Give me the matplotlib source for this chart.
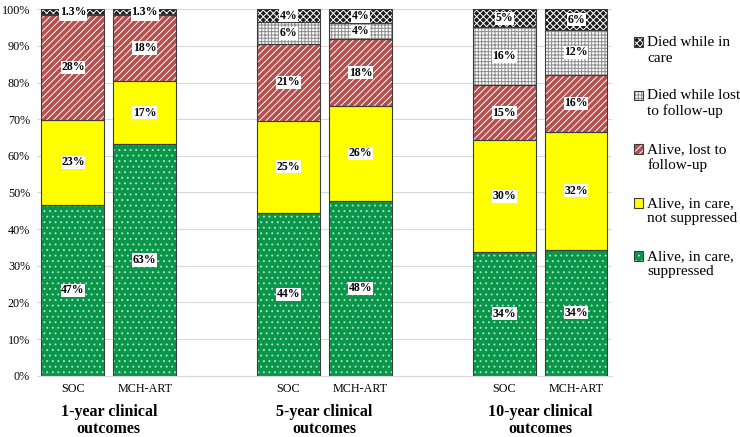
"""Stacked clinical outcome bars: SOC vs MCH-ART at 1, 5 and 10 years."""

import matplotlib
import matplotlib.pyplot as plt
import numpy as np
from matplotlib.legend_handler import HandlerTuple
from matplotlib.patches import Patch

matplotlib.use("Agg")

# ---------------------------------------------------------------------------
# Data (percent of cohort, bottom to top)
# ---------------------------------------------------------------------------

ARMS = ["SOC", "MCH-ART", "SOC", "MCH-ART", "SOC", "MCH-ART"]
GROUPS = ["1-year clinical\noutcomes", "5-year clinical\noutcomes", "10-year clinical\noutcomes"]
CATEGORIES = [
    "Alive, in care,\nsuppressed",
    "Alive, in care,\nnot suppressed",
    "Alive, lost to\nfollow-up",
    "Died while lost\nto follow-up",
    "Died while in\ncare",
]

in_care_suppressed = [46.6, 63.2, 44.4, 47.7, 33.8, 34.4]
in_care_not_suppressed = [23.3, 17.2, 25.2, 25.9, 30.4, 32.1]
lost_to_follow_up = [28.4, 18.0, 20.9, 18.2, 15.1, 15.6]
died_lost = [0.4, 0.3, 5.9, 4.3, 15.8, 12.2]
died_in_care = [1.3, 1.3, 3.6, 3.9, 4.9, 5.7]

SERIES = [in_care_suppressed, in_care_not_suppressed, lost_to_follow_up, died_lost, died_in_care]

# Bar slots: an empty slot between each pair of arms
X_POS = [0, 1, 3, 4, 6, 7]

# (face, hatch, hatch colour) per category
STYLES = [
    ("#0a964a", "...", "#a8e0bd"),
    ("#ffff00", "", "#ffff00"),
    ("#b5504f", "/////", "#ffffff"),
    ("#ffffff", "+++++", "#8c8c8c"),
    ("#1c1c1c", "xxxxx", "#ffffff"),
]
EDGE = "#3b3b3b"

plt.rcParams["font.family"] = ["Liberation Serif", "DejaVu Serif"]
plt.rcParams["hatch.linewidth"] = 0.7


class TopAlignedHandler(HandlerTuple):
    """Overlay the tuple parts and lift the square to the first text line."""

    def create_artists(self, legend, orig_handle, xdescent, ydescent, width,
                       height, fontsize, trans):
        return super().create_artists(legend, orig_handle, xdescent,
                                      ydescent - 0.52 * fontsize, width, height,
                                      fontsize, trans)


def fmt(v: float) -> str:
    return f"{v:.1f}%" if v < 2 else f"{v:.0f}%"


def main() -> None:
    fig = plt.figure(figsize=(7.4, 4.37), dpi=100)
    ax = fig.add_axes([0.05, 0.14, 0.777, 0.839])

    x = np.array(X_POS, dtype=float)
    width = 0.875
    bottom = np.zeros(len(x))
    handles = []
    for values, (face, hatch, hcol) in zip(SERIES, STYLES):
        vals = np.array(values)
        ax.bar(x, vals, width, bottom=bottom, color=face, linewidth=0, zorder=2)
        if hatch:
            ax.bar(x, vals, width, bottom=bottom, fill=False, hatch=hatch,
                   edgecolor=hcol, linewidth=0, zorder=3)
        ax.bar(x, vals, width, bottom=bottom, fill=False, edgecolor=EDGE,
               linewidth=0.8, zorder=4)
        for xi, b, v in zip(x, bottom, vals):
            ax.text(xi, b + v / 2, fmt(v), ha="center", va="center", fontsize=8.5,
                    fontweight="bold", zorder=6,
                    bbox={"facecolor": "white", "edgecolor": "none", "pad": 0.4})
        bottom += vals

        fill = Patch(facecolor=face, edgecolor="none")
        hat = Patch(fill=False, hatch=hatch, edgecolor=hcol, linewidth=0)
        outline = Patch(fill=False, edgecolor=EDGE, linewidth=0.8)
        handles.append((fill, hat, outline))

    ax.set_xlim(-0.5, 7.5)
    ax.set_ylim(0, 100)
    ax.set_yticks(np.arange(0, 101, 10))
    ax.set_yticklabels([f"{t}%" for t in range(0, 101, 10)])
    ax.set_xticks(x)
    ax.set_xticklabels(ARMS)
    ax.tick_params(length=0, labelsize=8.7, pad=5)
    ax.grid(axis="y", color="#d9d9d9", linewidth=0.8, zorder=0)
    for side in ("top", "right", "left"):
        ax.spines[side].set_visible(False)
    ax.spines["bottom"].set_color("#d9d9d9")

    for i, label in enumerate(GROUPS):
        ax.annotate(label, xy=((x[2 * i] + x[2 * i + 1]) / 2, 0),
                    xycoords=("data", "axes fraction"), xytext=(0, -20),
                    textcoords="offset points", ha="center", va="top",
                    fontsize=11.5, fontweight="bold", linespacing=1.08)

    leg = fig.legend(handles[::-1], CATEGORIES[::-1], loc="upper left",
                     bbox_to_anchor=(0.846, 0.935), frameon=False, fontsize=11,
                     handlelength=0.6, handleheight=0.6, handletextpad=0.3,
                     labelspacing=1.6, borderpad=0,
                     handler_map={tuple: TopAlignedHandler(ndivide=1, pad=0)})
    for t in leg.get_texts():
        t.set_linespacing(1.25)

    fig.savefig("out.png", dpi=100)
    plt.close(fig)


if __name__ == "__main__":
    main()
